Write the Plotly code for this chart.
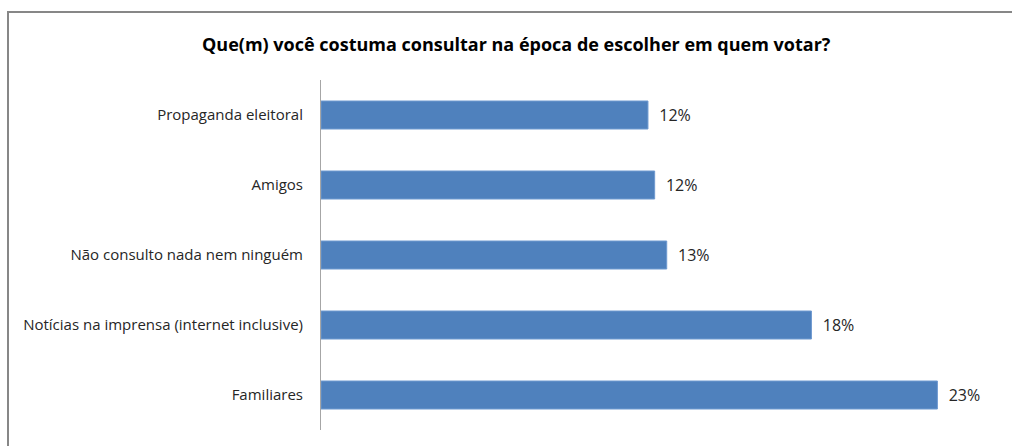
import plotly.graph_objects as go

# Survey answers, listed top to bottom
categories = [
    "Propaganda eleitoral",
    "Amigos",
    "Não consulto nada nem ninguém",
    "Notícias na imprensa (internet inclusive)",
    "Familiares",
]
shares = [12.2, 12.45, 12.9, 18.3, 23.0]

title_text = "Que(m) você costuma consultar na época de escolher em quem votar?"

W, H = 1012, 446
L, R, T, B = 321, 21, 80, 16
plot_w = W - L - R
plot_h = H - T - B


def px_x(px):
    return (px - L) / plot_w


def px_y(py):
    return (H - B - py) / plot_h


fig = go.Figure(
    go.Bar(
        x=shares,
        y=categories,
        orientation="h",
        width=0.4,
        marker=dict(color="#4F81BD", line=dict(color="#6F9AD0", width=1)),
        text=shares,
        texttemplate="  %{x:.0f}%",
        textposition="outside",
        textfont=dict(family="Open Sans", size=16, color="#262626"),
        cliponaxis=False,
        hoverinfo="skip",
    )
)

fig.update_layout(
    width=W,
    height=H,
    margin=dict(l=L, r=R, t=T, b=B),
    paper_bgcolor="white",
    plot_bgcolor="white",
    showlegend=False,
    xaxis=dict(
        range=[0, 25],
        visible=False,
        fixedrange=True,
    ),
    yaxis=dict(
        autorange="reversed",
        showline=True,
        linecolor="#A6A6A6",
        linewidth=1,
        showgrid=False,
        ticks="",
        ticklabelstandoff=14,
        tickfont=dict(family="Open Sans", size=15, color="#262626"),
        fixedrange=True,
    ),
    annotations=[
        dict(
            text="<b>" + title_text + "</b>",
            xref="paper",
            yref="paper",
            x=px_x(516),
            y=px_y(44),
            xanchor="center",
            yanchor="middle",
            showarrow=False,
            font=dict(family="Open Sans", size=18, color="#000000"),
        )
    ],
    shapes=[
        dict(
            type="rect",
            xref="paper",
            yref="paper",
            x0=px_x(8),
            x1=px_x(1030),
            y0=px_y(460),
            y1=px_y(12),
            line=dict(color="#878787", width=2),
            fillcolor="rgba(0,0,0,0)",
            layer="below",
        )
    ],
)

fig.write_html("out.html")
